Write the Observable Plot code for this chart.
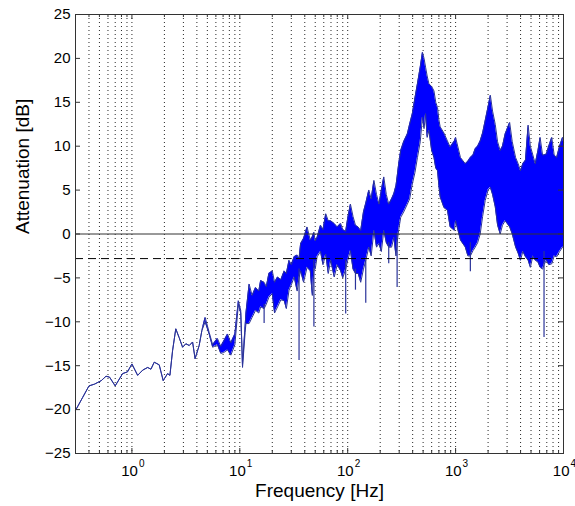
<!DOCTYPE html>
<html><head><meta charset="utf-8">
<script src="https://cdn.jsdelivr.net/npm/d3@7"></script>
<script src="https://cdn.jsdelivr.net/npm/@observablehq/plot@0.6"></script>
<style>body{margin:0;background:#fff} svg{display:block}</style>
</head><body><div id="chart"></div>
<script>
// Frequency (Hz) and lower / upper envelope of the attenuation trace (dB)
const freq = [0.30,0.35,0.40,0.45,0.52,0.575,0.62,0.70,0.82,0.91,1.0,1.13,1.26,1.40,1.50,1.61,1.79,1.95,2.14,2.25,2.38,2.55,2.74,2.95,3.16,3.4,3.65,3.85,4.2,4.45,4.77,5.2,5.6,6.2,6.66,7.1,7.7,8.26,9.0,9.7,10.2,10.6,11.2,
  11.4,12.2,13.0,14.0,15.0,15.6,16.8,17.6,18.6,20,21,22.4,24,25.8,27,28.6,30,31.9,34,35.4,36.6,39,42,45,47,48.6,50,52,56,59,62.6,66,69.6,75,80,86,90,95.8,100,106,112,118,125,132,140,147,157,165,175,185,195,205,216,228,240,255,268,280,287,297,
  310,330,357,375,397,420,443,470,493,510,527,545,566,600,630,655,680,700,720,780,840,890,975,1000,1110,1230,1300,1370,1450,1520,1600,1690,1780,1880,2000,2100,2200,2330,2450,2590,2720,2880,3170,3350,3600,3800,3990,4200,4440,4700,4930,5200,5470,5800,6070,6400,6600,6930,7300,7780,8200,8640,9200,9800,10000];
const lower = [-20.1,-18.6,-17.3,-17.1,-16.7,-16.2,-16.3,-17.3,-15.9,-15.7,-14.8,-16.1,-15.5,-15.2,-15.4,-14.6,-14.9,-16.7,-15.9,-16.1,-13.3,-10.8,-11.8,-12.9,-12.5,-12.7,-12.3,-14.2,-12.7,-11.0,-10.0,-11.4,-12.9,-12.6,-13.6,-13.5,-13.2,-13.8,-12.6,-8.0,-9.0,-15.2,-11.2,
  -10.2,-10.2,-9.5,-8.7,-9.0,-8.3,-8.5,-8.0,-7.2,-6.8,-9.0,-8.3,-7.5,-7.6,-8.5,-6.4,-5.8,-4.9,-6.5,-5.0,-4.2,-5.5,-3.8,-4.2,-7.0,-4.0,-4.0,-2.6,-2.0,-3.5,-2.3,-4.5,-3.0,-4.9,-3.5,-4.2,-5.0,-4.0,-3.0,-1.9,-4.0,-4.5,-4.5,-5.5,-4.0,-3.0,-1.5,-2.5,0.4,-1.5,-1.1,-2.0,0.4,-1.0,-1.5,-1.5,-0.4,-2.5,-1.0,0.5,
  1.9,2.5,3.4,4.0,5.7,7.0,8.7,10.5,13.3,12.0,13.7,11.0,11.8,9.5,8.7,7.5,7.2,5.5,4.2,3.0,2.7,0.8,0.4,1.5,-0.7,-1.5,-2.5,-2.5,-1.9,-1.5,-1.0,0.0,2.0,3.8,5.0,5.3,4.5,3.1,1.0,0.0,1.0,1.5,0.8,0.0,-1.5,-2.2,-3.0,-2.0,-2.6,-3.0,-3.8,-2.5,-3.0,-3.2,-3.8,-4.0,-3.5,-3.0,-3.5,-3.4,-2.5,-2.6,-2.0,-1.5,-1.5];
const upper = [-20.1,-18.6,-17.3,-17.1,-16.7,-16.2,-16.3,-17.3,-15.9,-15.7,-14.8,-16.1,-15.5,-15.2,-15.4,-14.6,-14.9,-16.7,-15.9,-16.1,-13.3,-10.8,-11.8,-12.9,-12.5,-12.7,-12.3,-14.2,-12.7,-11.0,-9.5,-11.2,-12.6,-11.9,-12.8,-12.2,-11.4,-12.4,-11.4,-7.6,-8.7,-14.8,-10.5,
  -9.0,-5.7,-7.0,-6.1,-6.5,-5.3,-5.5,-6.0,-4.5,-4.2,-5.5,-4.9,-5.2,-4.2,-4.5,-3.0,-3.5,-2.6,-2.4,-2.8,-1.1,-0.5,0.8,-0.7,-0.3,0.2,-0.8,-0.4,1.0,0.5,2.3,1.5,1.5,1.2,0.8,1.2,0.5,0.3,1.8,3.4,2.0,1.0,0.8,0.4,2.5,3.5,5.0,4.0,6.1,4.5,3.4,5.0,6.5,4.5,3.4,4.0,4.6,5.5,6.5,8.0,
  9.5,10.5,11.4,12.5,13.7,15.5,17.1,19.0,20.7,20.0,19.0,18.0,17.1,16.8,16.3,15.0,14.4,13.0,12.2,11.5,10.6,9.9,10.6,11.0,8.7,8.0,8.3,8.7,9.0,9.7,10.0,10.6,11.5,12.9,14.5,15.8,14.0,12.5,10.5,9.5,10.0,11.4,12.7,10.5,8.7,8.0,7.2,8.0,8.4,12.4,10.0,9.0,8.0,9.5,11.0,9.0,9.0,9.1,10.0,11.0,9.0,8.7,10.0,11.0,10.5];
// Narrow downward spikes: frequency, top and bottom (dB)
const spikeFreq = [16.8,35.4,48.6,95.8,118,147,240,287,1370,6600];
const spikeTop = [-8,-4,-3,-3,-4,-3,-1,0,-1,-2];
const spikeBottom = [-10.2,-14.4,-10.6,-9.1,-6.4,-7.9,-3.4,-6.1,-4.3,-11.8];
// Axes
const yTicks = [-25,-20,-15,-10,-5,0,5,10,15,20,25];
const decadeTicks = [1,10,100,1000,10000];
const decadeExponents = ["0","1","2","3","4"];
const decades = [0.1,1,10,100,1000];
const multipliers = [1,2,3,4,5,6,7,8,9];
const referenceLevels = [0];
const cutoffLevels = [-2.8];
const xLabel = "Frequency [Hz]";
const yLabel = "Attenuation [dB]";

const W = 575, H = 506, mL = 75, mR = 12, mT = 14, mB = 53;
const innerW = W - mL - mR, innerH = H - mT - mB;

const data = freq.map((f, i) => ({f, lo: lower[i], hi: upper[i]}));
const spikes = spikeFreq.map((f, i) => ({f, top: spikeTop[i], bottom: spikeBottom[i]}));
const gridFreqs = decades.flatMap(d => multipliers.map(m => +(d * m).toPrecision(3))).filter(v => v > 0.3 && v < 10000);
const minorFreqs = gridFreqs.filter(v => !decadeTicks.includes(v));
const fmt = v => (v < 0 ? "\u2212" + Math.abs(v) : String(v));

const chart = Plot.plot({
  width: W, height: H,
  marginLeft: mL, marginRight: mR, marginTop: mT, marginBottom: mB,
  x: {type: "log", domain: [0.3, 10000], axis: null},
  y: {domain: [-25, 25], axis: null},
  style: {fontFamily: "'Liberation Sans', Arial, Helvetica, sans-serif", fontSize: "15px", color: "#000", background: "#fff"},
  marks: [
    Plot.ruleX(gridFreqs, {x: d => d, stroke: "#000", strokeWidth: 1, strokeDasharray: "1,3", strokeOpacity: 0.85}),
    Plot.areaY(data, {x: "f", y1: "lo", y2: "hi", fill: "#0000ff", curve: "linear"}),
    Plot.lineY(data, {x: "f", y: "hi", stroke: "#2a3399", strokeWidth: 1}),
    Plot.lineY(data, {x: "f", y: "lo", stroke: "#2a3399", strokeWidth: 1}),
    Plot.ruleX(spikes, {x: "f", y1: "top", y2: "bottom", stroke: "#2a3399", strokeWidth: 1.2}),
    Plot.ruleY(referenceLevels, {y: d => d, stroke: "#333", strokeWidth: 1}),
    Plot.ruleY(cutoffLevels, {y: d => d, stroke: "#000", strokeWidth: 1, strokeDasharray: "8,5"}),
    // ticks (inward, all four sides)
    Plot.ruleY(yTicks, {y: d => d, insetRight: innerW - 5, stroke: "#333"}),
    Plot.ruleY(yTicks, {y: d => d, insetLeft: innerW - 5, stroke: "#333"}),
    Plot.ruleX(decadeTicks, {x: d => d, insetTop: innerH - 5, stroke: "#333"}),
    Plot.ruleX(decadeTicks, {x: d => d, insetBottom: innerH - 5, stroke: "#333"}),
    Plot.ruleX(minorFreqs, {x: d => d, insetTop: innerH - 3, stroke: "#333"}),
    Plot.ruleX(minorFreqs, {x: d => d, insetBottom: innerH - 3, stroke: "#333"}),
    Plot.frame({stroke: "#333", strokeWidth: 1}),
    // tick labels
    Plot.text(yTicks, {y: d => d, frameAnchor: "left", dx: -5, textAnchor: "end", text: fmt, fontSize: 15}),
    Plot.text(decadeTicks, {x: d => d, frameAnchor: "bottom", dy: 22, dx: 6, textAnchor: "end", text: () => "10", fontSize: 15}),
    Plot.text(decadeTicks, {x: d => d, frameAnchor: "bottom", dy: 13, dx: 7, textAnchor: "start", text: (d, i) => decadeExponents[i], fontSize: 10}),
    // axis titles
    Plot.text([xLabel], {frameAnchor: "bottom", dy: 43, text: d => d, fontSize: 19}),
    Plot.text([yLabel], {frameAnchor: "left", dx: -53, rotate: -90, text: d => d, fontSize: 19})
  ]
});
document.getElementById("chart").append(chart);
</script>
</body></html>
